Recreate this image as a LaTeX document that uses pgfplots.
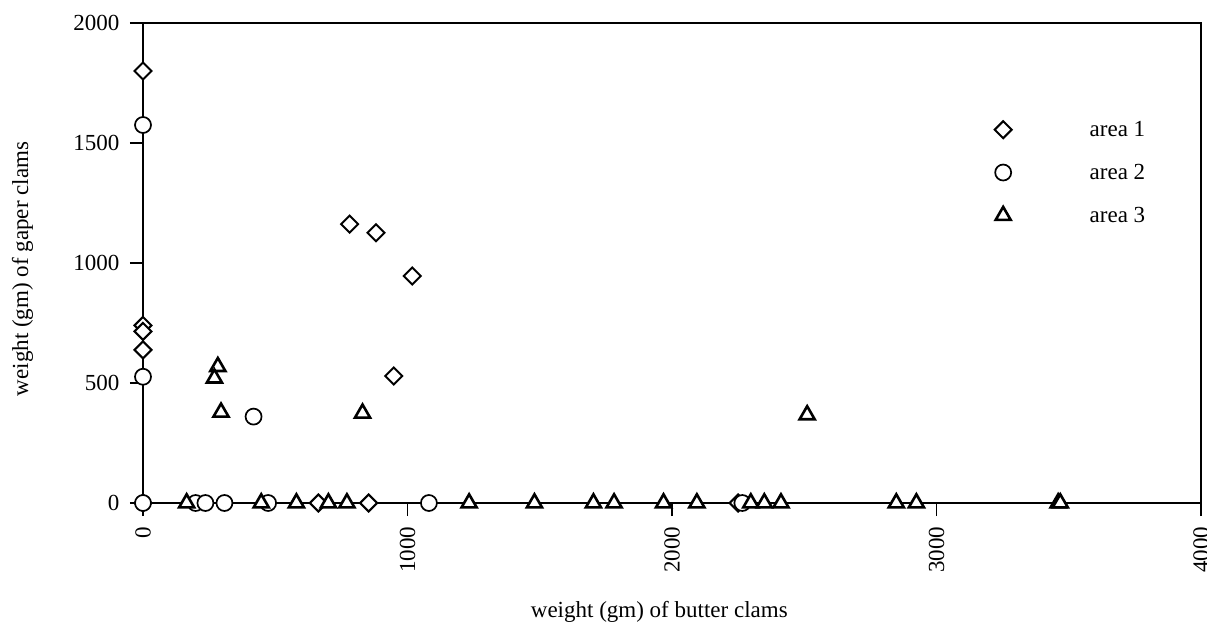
\documentclass[border=0pt]{standalone}
\usepackage{fontspec}
\setmainfont{Liberation Serif}
\usepackage{pgfplots}
\pgfplotsset{compat=1.18}
\begin{document}
\begin{tikzpicture}
\path[use as bounding box] (-143bp,-126bp) rectangle (1064bp,503bp);
\begin{axis}[
  scale only axis, width=1058bp, height=480bp,
  at={(0,0)}, anchor=south west,
  xmin=0, xmax=4000, ymin=0, ymax=2000,
  xtick={0,1000,2000,3000,4000}, ytick={0,500,1000,1500,2000},
  minor tick num=0,
  tick pos=left,
  tick align=outside, major tick length=13bp,
  every tick/.style={black, line width=1.6bp},
  axis line style={black, line width=2bp},
  scaled ticks=false,
  /pgf/number format/1000 sep={},
  /pgf/number format/assume math mode=true,
  font=\fontsize{23bp}{27bp}\selectfont,
  tick label style={font=\fontsize{23bp}{27bp}\selectfont},
  xticklabel style={yshift=-7bp, rotate=90, anchor=east},
  yticklabel style={xshift=-7bp, anchor=east},
  clip=false,
  xlabel={weight (gm) of butter clams},
  ylabel={weight (gm) of gaper clams},
  xlabel style={at={(rel axis cs:0.488,-0.227)}, anchor=center},
  ylabel style={at={(rel axis cs:-0.114,0.4875)}, anchor=center, rotate=0},
  legend image code/.code={\draw[#1] plot coordinates {(0bp,0bp)};},
  legend cell align=left,
  legend style={draw=none, fill=none, at={(rel axis cs:0.802,0.80)}, anchor=north west,
    row sep=26bp, nodes={inner sep=0pt},
    /tikz/every odd column/.append style={column sep=78bp},
    font=\fontsize{23bp}{27bp}\selectfont},
]
\addplot[only marks, mark=square*, mark size=6bp,
  mark options={rotate=45, fill=white, draw=black, line width=2bp}]
  coordinates {(0,1800) (0,740) (0,715) (0,638) (781,1162) (881,1126) (1018,946) (948,529)
  (0,0) (663,0) (853,0) (2250,0)};
\addlegendentry{area 1}
\addplot[only marks, mark=*, mark size=8bp,
  mark options={fill=white, draw=black, line width=1.7bp}]
  coordinates {(0,1575) (0,526) (418,360) (0,0) (199,0) (236,0) (308,0) (473,0) (1081,0) (2266,0)};
\addlegendentry{area 2}
\addplot[only marks, mark=triangle*, mark size=8.7bp,
  mark options={fill=white, draw=black, line width=2.6bp}]
  coordinates {(283,568) (270,520) (295,378) (830,374) (2511,367)
  (165,0) (447,0) (580,0) (701,0) (771,0) (1233,0) (1480,0) (1703,0) (1781,0)
  (1968,0) (2094,0) (2298,0) (2349,0) (2412,0) (2848,0) (2924,0) (3460,0) (3468,0)};
\addlegendentry{area 3}
\end{axis}
\end{tikzpicture}
\end{document}
